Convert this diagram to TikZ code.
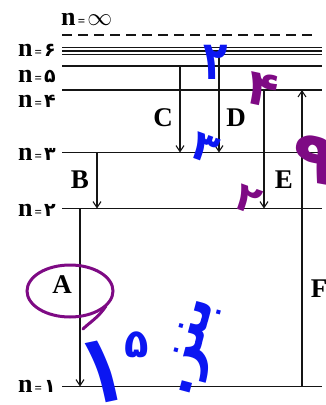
\documentclass[tikz,border=0pt]{standalone}
\usepackage{fontspec}
\setmainfont{Liberation Serif}
\newfontfamily\fadigits[Script=Arabic]{DejaVu Sans}
\TeXXeTstate=1
\usepackage{xcolor}
\usetikzlibrary{arrows.meta,positioning,calc}
\definecolor{ink}{HTML}{151515}
\definecolor{penblue}{HTML}{0B16F2}
\definecolor{penpurple}{HTML}{7E0A84}
\newcommand{\smalleq}{{\fontsize{13}{13}\selectfont\,=\,}}
\newcommand{\fd}[1]{{\fadigits\bfseries\fontsize{19}{19}\selectfont #1}}
\tikzset{
  level/.style={ink,line width=1.5pt},
  trans/.style={ink,line width=1.1pt,-{Straight Barb[length=6pt,width=8pt]}},
  nlab/.style={anchor=east,inner sep=0pt,font=\bfseries\fontsize{26}{26}\selectfont},
  letter/.style={inner sep=0pt,font=\bfseries\fontsize{27}{27}\selectfont},
  pen/.style={inner sep=0pt,font=\fadigits\bfseries},
}

\begin{document}
\begin{tikzpicture}[x=1pt,y=-1pt]
\useasboundingbox (0,0) rectangle (326,405);
% energy levels
\foreach \n/\y in {6a/47.5,6b/51,6c/54.5,5/66,4/90,3/152.5,2/208.5,1/386.5}{
  \coordinate (L\n) at (62,\y);
  \coordinate (R\n) at (322,\y);
  \draw[level] (L\n) -- (R\n);
}
\coordinate (Linf) at (62,35);
\coordinate (Rinf) at (314,35);
\draw[ink,line width=1.6pt,dash pattern=on 10pt off 6pt] (Linf) -- (Rinf);
% level names
\node[nlab,anchor=west] (ninf) at (61,19) {n\smalleq{\fontsize{23}{23}\selectfont$\infty$}};
\node[nlab] (n6) at (56,50) {n\smalleq\fd{۶}};
\node[nlab] (n5) at (56,76) {n\smalleq\fd{۵}};
\node[nlab] (n4) at (56,101) {n\smalleq\fd{۴}};
\node[nlab] (n3) at (56,154) {n\smalleq\fd{۳}};
\node[nlab] (n2) at (56,210) {n\smalleq\fd{۲}};
\node[nlab] (n1) at (56,386) {n\smalleq\fd{۱}};
% transitions
\coordinate (xA) at (80,0);
\coordinate (xB) at (97,0);
\coordinate (xC) at (180,0);
\coordinate (xD) at (219,0);
\coordinate (xE) at (264,0);
\coordinate (xF) at (302,0);
\draw[trans] (xA |- L2) -- (xA |- L1);
\draw[trans] (xB |- L3) -- (xB |- L2);
\draw[trans] (xC |- L5) -- (xC |- L3);
\draw[trans] (xD |- L6c) -- (xD |- L3);
\draw[trans] (xE |- L4) -- (xE |- L2);
\draw[trans] (xF |- L1) -- (xF |- L4);
\node[letter] (A) at (62,285) {A};
\node[letter] (B) at (80,180) {B};
\node[letter] (C) at (163,118) {C};
\node[letter] (D) at (236,118) {D};
\node[letter] (E) at (284,180) {E};
\node[letter] (F) at (319,289) {F};
% handwriting
\node[pen,penblue,yscale=1.35,font=\fadigits\bfseries\fontsize{40}{40}\selectfont] (h2) at (216,62) {۲};
\node[pen,penpurple,rotate=-12,font=\fadigits\bfseries\fontsize{50}{50}\selectfont] (h4) at (263,90) {۴};
\node[pen,penblue,rotate=-20,font=\fadigits\bfseries\fontsize{42}{42}\selectfont] (h3) at (205,148) {۳};
\node[pen,penpurple,rotate=-10,font=\fadigits\bfseries\fontsize{72}{72}\selectfont] (h9) at (314,160) {۹};
\node[pen,penpurple,rotate=-20,font=\fadigits\bfseries\fontsize{40}{40}\selectfont] (h2b) at (248,200) {۲};
\node[pen,penblue,rotate=12,yscale=1.4,font=\fadigits\bfseries\fontsize{70}{70}\selectfont] (h1) at (103,372) {۱};
\node[pen,penblue,font=\fadigits\bfseries\fontsize{40}{40}\selectfont] (h5) at (137,345) {۵};
\node[pen,penblue,rotate=75,font=\fadigits\bfseries\fontsize{56}{56}\selectfont] (hw) at (195,348) {\beginR بنز.\endR};
\draw[penpurple,line width=3pt] (70,291) ellipse (43 and 26);
\draw[penpurple,line width=3pt,line cap=round] (106,306) .. controls (98,318) and (90,322) .. (83,329);
\end{tikzpicture}
\end{document}
